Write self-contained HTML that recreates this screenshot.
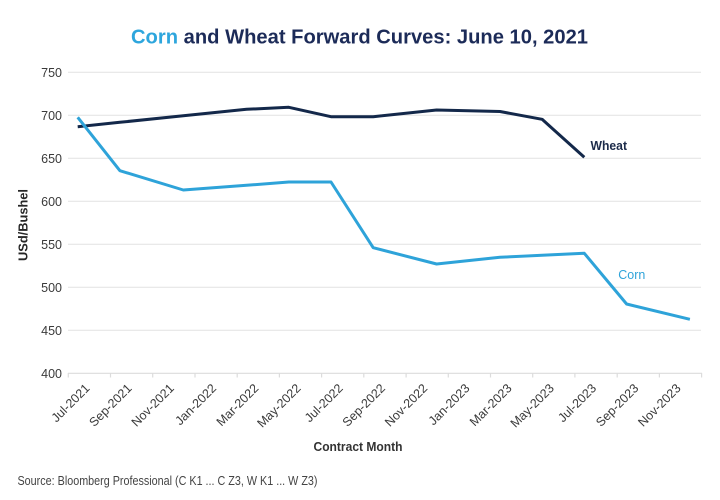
<!DOCTYPE html>
<html>
<head>
<meta charset="utf-8">
<style>
  html, body { margin: 0; padding: 0; background: #ffffff; }
  body { width: 720px; height: 500px; overflow: hidden; }
  svg { display: block; }
  text { font-family: "Liberation Sans", "DejaVu Sans", sans-serif; }
</style>
</head>
<body>
<svg width="720" height="500" viewBox="0 0 720 500" xmlns="http://www.w3.org/2000/svg">
  <rect x="0" y="0" width="720" height="500" fill="#ffffff"/>

  <!-- Title -->
  <text x="131" y="43.3" font-size="20" font-weight="bold" textLength="457" lengthAdjust="spacingAndGlyphs"><tspan fill="#2ea6dd">Corn</tspan><tspan fill="#1c2b58"> and Wheat Forward Curves: June 10, 2021</tspan></text>

  <!-- Gridlines -->
  <g stroke="#e2e2e2" stroke-width="1">
    <line x1="68" y1="72.3" x2="701" y2="72.3"/>
    <line x1="68" y1="115.3" x2="701" y2="115.3"/>
    <line x1="68" y1="158.3" x2="701" y2="158.3"/>
    <line x1="68" y1="201.3" x2="701" y2="201.3"/>
    <line x1="68" y1="244.3" x2="701" y2="244.3"/>
    <line x1="68" y1="287.3" x2="701" y2="287.3"/>
    <line x1="68" y1="330.3" x2="701" y2="330.3"/>
  </g>
  <!-- X axis baseline and ticks -->
  <g stroke="#dcdcdc" stroke-width="1.2">
    <line x1="68" y1="373.3" x2="702" y2="373.3"/>
    <line x1="68.3" y1="373" x2="68.3" y2="377.5"/>
    <line x1="110.5" y1="373" x2="110.5" y2="377.5"/>
    <line x1="152.7" y1="373" x2="152.7" y2="377.5"/>
    <line x1="195.0" y1="373" x2="195.0" y2="377.5"/>
    <line x1="237.2" y1="373" x2="237.2" y2="377.5"/>
    <line x1="279.4" y1="373" x2="279.4" y2="377.5"/>
    <line x1="321.6" y1="373" x2="321.6" y2="377.5"/>
    <line x1="363.8" y1="373" x2="363.8" y2="377.5"/>
    <line x1="406.1" y1="373" x2="406.1" y2="377.5"/>
    <line x1="448.3" y1="373" x2="448.3" y2="377.5"/>
    <line x1="490.5" y1="373" x2="490.5" y2="377.5"/>
    <line x1="532.7" y1="373" x2="532.7" y2="377.5"/>
    <line x1="574.9" y1="373" x2="574.9" y2="377.5"/>
    <line x1="617.2" y1="373" x2="617.2" y2="377.5"/>
    <line x1="659.4" y1="373" x2="659.4" y2="377.5"/>
    <line x1="701.6" y1="373" x2="701.6" y2="377.5"/>
  </g>

  <!-- Y tick labels -->
  <g font-size="12.5" fill="#3a3a3a" text-anchor="end">
    <text x="62" y="76.8">750</text>
    <text x="62" y="119.8">700</text>
    <text x="62" y="162.8">650</text>
    <text x="62" y="205.8">600</text>
    <text x="62" y="248.8">550</text>
    <text x="62" y="291.8">500</text>
    <text x="62" y="334.8">450</text>
    <text x="62" y="377.8">400</text>
  </g>

  <!-- Y axis title -->
  <text x="0" y="0" font-size="12.5" font-weight="bold" fill="#262626" text-anchor="middle" transform="translate(27.5,225) rotate(-90)" textLength="72" lengthAdjust="spacingAndGlyphs">USd/Bushel</text>

  <!-- X tick labels -->
  <g font-size="12.5" fill="#3a3a3a" text-anchor="end">
    <text transform="translate(90.4,389) rotate(-45)">Jul-2021</text>
    <text transform="translate(132.6,389) rotate(-45)">Sep-2021</text>
    <text transform="translate(174.8,389) rotate(-45)">Nov-2021</text>
    <text transform="translate(217.1,389) rotate(-45)">Jan-2022</text>
    <text transform="translate(259.3,389) rotate(-45)">Mar-2022</text>
    <text transform="translate(301.5,389) rotate(-45)">May-2022</text>
    <text transform="translate(343.7,389) rotate(-45)">Jul-2022</text>
    <text transform="translate(385.9,389) rotate(-45)">Sep-2022</text>
    <text transform="translate(428.2,389) rotate(-45)">Nov-2022</text>
    <text transform="translate(470.4,389) rotate(-45)">Jan-2023</text>
    <text transform="translate(512.6,389) rotate(-45)">Mar-2023</text>
    <text transform="translate(554.8,389) rotate(-45)">May-2023</text>
    <text transform="translate(597.0,389) rotate(-45)">Jul-2023</text>
    <text transform="translate(639.3,389) rotate(-45)">Sep-2023</text>
    <text transform="translate(681.5,389) rotate(-45)">Nov-2023</text>
  </g>

  <!-- X axis title -->
  <text x="313.5" y="451" font-size="13" font-weight="bold" fill="#333333" textLength="89" lengthAdjust="spacingAndGlyphs">Contract Month</text>

  <!-- Series: Wheat -->
  <polyline fill="none" stroke="#13284a" stroke-width="3" stroke-linejoin="round" stroke-linecap="butt"
    points="77.7,126.7 119.9,122.3 183.3,115.7 246.6,109.3 288.8,107.3 331.0,116.7 373.2,116.7 436.6,110 500.0,111.5 542.1,119.3 584.3,157.3"/>

  <!-- Series: Corn -->
  <polyline fill="none" stroke="#2ea3d9" stroke-width="3" stroke-linejoin="round" stroke-linecap="butt"
    points="77.7,117.3 119.9,170.7 183.3,190 246.6,185.3 288.8,182 331.0,182 373.2,247.7 436.6,264 500.0,257.3 542.1,255.3 584.3,253.3 626.6,304 689.9,319.3"/>

  <!-- Series labels -->
  <text x="590.5" y="150" font-size="12.5" font-weight="bold" fill="#1c2b4a" textLength="36.5" lengthAdjust="spacingAndGlyphs">Wheat</text>
  <text x="618.3" y="279" font-size="12.5" fill="#2ea3d9" textLength="27" lengthAdjust="spacingAndGlyphs">Corn</text>

  <!-- Source -->
  <text x="17.5" y="485" font-size="12.5" fill="#444444" textLength="300" lengthAdjust="spacingAndGlyphs">Source: Bloomberg Professional (C K1 ... C Z3, W K1 ... W Z3)</text>
</svg>
</body>
</html>
